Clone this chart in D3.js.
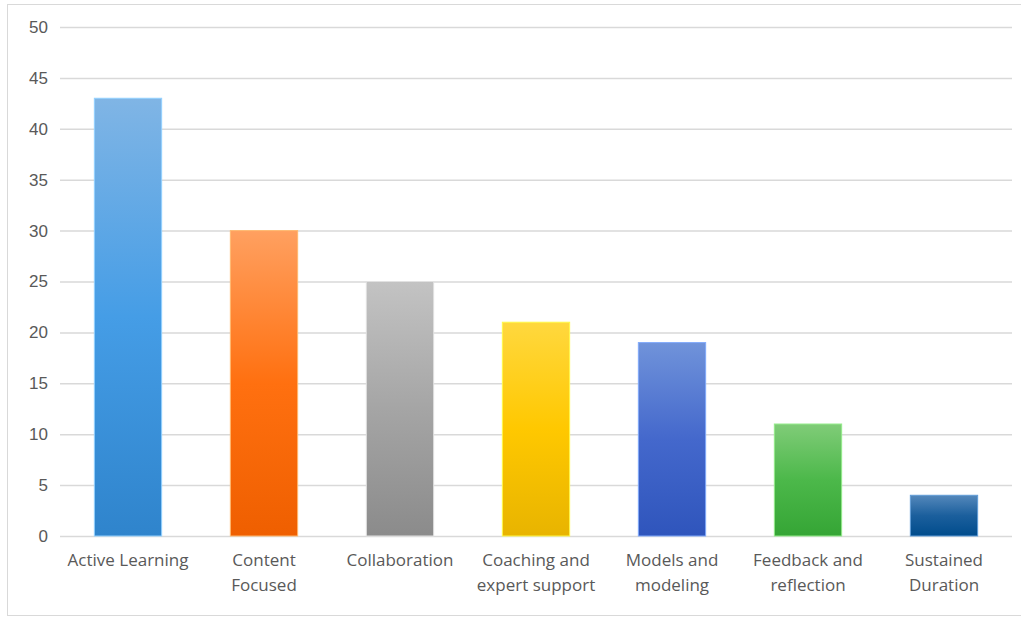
<!DOCTYPE html>
<html>
<head>
<meta charset="utf-8">
<script src="https://cdn.jsdelivr.net/npm/d3@7"></script>
<style>
  body { margin: 0; background: #fff; }
  svg { display: block; font-family: "Open Sans", sans-serif; }
  .tick text { fill: #595959; font-size: 17px; }
</style>
</head>
<body>
<div id="chart"></div>
<script>
// data
const categories = ["Active Learning", "Content Focused", "Collaboration", "Coaching and expert support",
                    "Models and modeling", "Feedback and reflection", "Sustained Duration"];
const labelLines = [["Active Learning"], ["Content", "Focused"], ["Collaboration"], ["Coaching and", "expert support"],
                    ["Models and", "modeling"], ["Feedback and", "reflection"], ["Sustained", "Duration"]];
const values = [43, 30, 25, 21, 19, 11, 4];
const yTicks = [0, 5, 10, 15, 20, 25, 30, 35, 40, 45, 50];
// gradient stops per bar: top, middle, bottom
const barColors = [
    ["#80b5e5", "#459de6", "#2f84cc"],
    ["#ffa060", "#ff7010", "#ef5f00"],
    ["#c3c3c3", "#a5a5a5", "#8b8b8b"],
    ["#ffd83e", "#ffc800", "#e8b400"],
    ["#7093da", "#4468cc", "#2f55bc"],
    ["#80cc78", "#4cb84a", "#35a535"],
    ["#5488bb", "#1b5f9d", "#004c8c"]
];

const W = 1021, H = 617;
const margin = {top: 27, right: 9, bottom: 81, left: 60};
const width = W - margin.left - margin.right;
const height = H - margin.top - margin.bottom;

const svg = d3.select("#chart").append("svg")
    .attr("width", W)
    .attr("height", H);

// outer frame
svg.append("rect")
    .attr("x", 7.5).attr("y", 4.5)
    .attr("width", W + 10).attr("height", H - 6)
    .attr("fill", "none")
    .attr("stroke", "#d9d9d9");

const defs = svg.append("defs");
barColors.forEach((c, i) => {
    let g = defs.append("linearGradient")
        .attr("id", "grad" + i)
        .attr("x1", 0).attr("y1", 0).attr("x2", 0).attr("y2", 1);
    g.append("stop").attr("offset", "0%").attr("stop-color", c[0]);
    g.append("stop").attr("offset", "50%").attr("stop-color", c[1]);
    g.append("stop").attr("offset", "100%").attr("stop-color", c[2]);
});

const g = svg.append("g")
    .attr("transform", `translate(${margin.left},${margin.top})`);

const x = d3.scaleBand()
    .domain(categories)
    .range([0, width])
    .paddingInner(0.505)
    .paddingOuter(0.2525);

const y = d3.scaleLinear()
    .domain([0, 50])
    .range([height, 0]);

// gridlines
g.append("g")
    .selectAll("line")
    .data(yTicks)
    .join("line")
    .attr("x1", 0).attr("x2", width)
    .attr("y1", d => y(d) + 0.5).attr("y2", d => y(d) + 0.5)
    .attr("stroke", "#d9d9d9")
    .attr("stroke-width", 1.5);

// y axis labels
const yAxis = d3.axisLeft(y).tickValues(yTicks).tickSize(0).tickPadding(12);
g.append("g")
    .call(yAxis)
    .call(a => a.select(".domain").remove());

// bars
g.selectAll(".bar")
    .data(values)
    .join("rect")
    .attr("class", "bar")
    .attr("x", (d, i) => x(categories[i]))
    .attr("y", d => y(d))
    .attr("width", x.bandwidth())
    .attr("height", d => height - y(d))
    .attr("fill", (d, i) => `url(#grad${i})`)
    .attr("stroke", (d, i) => d3.color(barColors[i][0]).brighter(0.4))
    .attr("stroke-width", 1);

// x axis labels
const xLab = g.append("g")
    .selectAll("text")
    .data(categories)
    .join("text")
    .attr("text-anchor", "middle")
    .attr("fill", "#595959")
    .style("font-size", "17px")
    .attr("transform", d => `translate(${x(d) + x.bandwidth() / 2},${height + 30})`);

xLab.each(function(d, i) {
    d3.select(this).selectAll("tspan")
        .data(labelLines[i])
        .join("tspan")
        .attr("x", 0)
        .attr("dy", (t, j) => j === 0 ? 0 : 25)
        .text(t => t);
});
</script>
</body>
</html>
